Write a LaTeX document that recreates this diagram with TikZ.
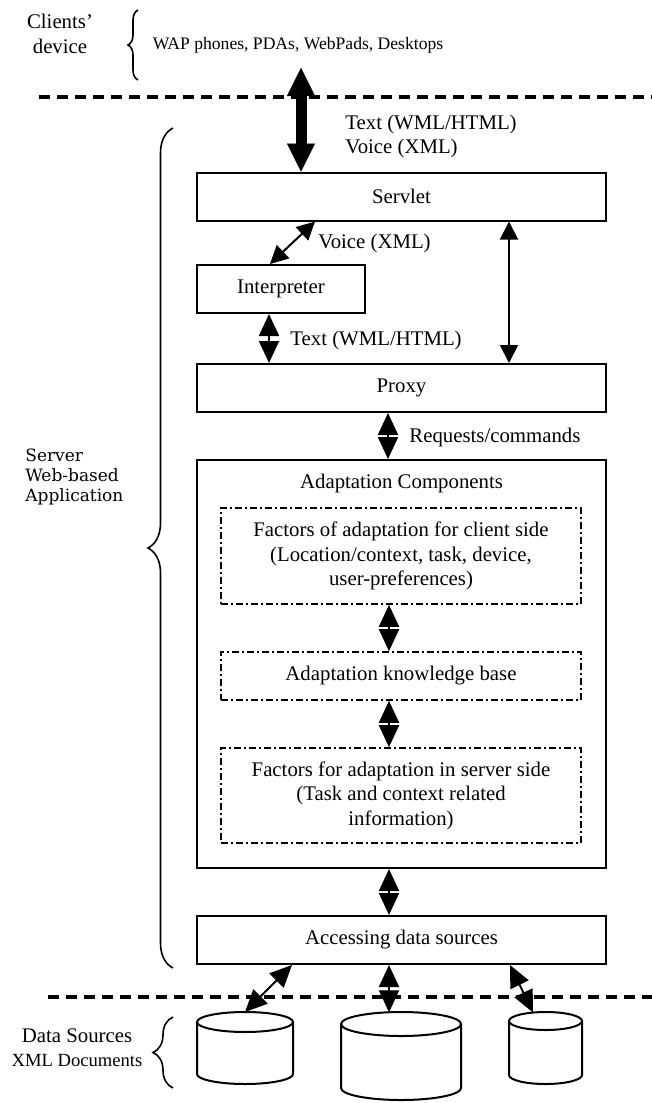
\documentclass[tikz,border=0pt]{standalone}
\usepackage{fontspec}
\setmainfont{Liberation Serif}
\newfontfamily\sidefont{DejaVu Serif}
\usetikzlibrary{arrows.meta,decorations.pathreplacing}
\begin{document}
\begin{tikzpicture}[x=0.5pt,y=0.5pt,
  font=\fontsize{10.4}{12.3}\selectfont,
  box/.style={draw, line width=1pt, inner sep=0pt, minimum width=204.5pt, minimum height=24pt},
  subbox/.style={draw, line width=0.8pt, dash pattern=on 3.5pt off 1.5pt on 1pt off 1.5pt,
    inner sep=0pt, minimum width=180pt, align=center},
  link/.style={line width=1pt, {Triangle[length=11pt,width=10pt]}-{Triangle[length=11pt,width=10pt]}},
  thinlink/.style={line width=1pt, {Triangle[length=9pt,width=9pt]}-{Triangle[length=9pt,width=9pt]}},
  mainlink/.style={line width=5.5pt,
    {Triangle[length=14pt,width=14pt,line width=0.1pt]}-{Triangle[length=14pt,width=14pt,line width=0.1pt]}},
  tierline/.style={line width=2pt, dash pattern=on 5.5pt off 3.5pt},
  brc/.style={decorate, line width=0.8pt},
  cyl/.style={line width=1pt},
  lbl/.style={anchor=west, inner sep=0pt, align=left}
]
\useasboundingbox (0,0) rectangle (652,-1103);

% client tier
\node[align=center] (clientlbl) at (60,-34) {Clients'\\device};
\draw[brc, decoration={brace, amplitude=5pt}] (138,-80) -- (138,-10);
\node[font=\fontsize{8.8}{10.5}\selectfont] (devices) at (298,-45) {WAP phones, PDAs, WebPads, Desktops};
\draw[tierline] (39,-97) -- (652,-97);

% server tier
\node[box] (servlet) at (401.5,-196.5) {Servlet};
\node[box, minimum width=84pt] (interp) at (281,-289) {Interpreter};
\node[box] (proxy) at (401.5,-388) {Proxy};
\node[box, minimum height=204pt] (adapt) at (401.5,-664) {};
\node (adapttitle) at (401.5,-483) {Adaptation Components};
\node[subbox, minimum height=48pt] (client) at (401,-556)
  {Factors of adaptation for client side\\(Location/context, task, device,\\user-preferences)};
\node[subbox, minimum height=24pt] (kb) at (401,-676) {Adaptation knowledge base};
\node[subbox, minimum height=47.5pt] (serverf) at (401,-795.5)
  {Factors for adaptation in server side\\(Task and context related\\information)};
\node[box] (access) at (401.5,-940) {Accessing data sources};

\node[lbl, font=\sidefont\fontsize{8.5}{10}\selectfont] (srvlbl) at (25,-477)
  {Server\\Web-based\\Application};
\draw[brc, decoration={brace, amplitude=12.5pt}] (173,-968) -- (173,-128);

% connectors
\coordinate (clients) at (301,-68);
\draw[mainlink] (clients) -- (clients |- servlet.north);
\node[lbl] (fmtlbl) at (345,-136.5) {Text (WML/HTML)\\Voice (XML)};

\draw[thinlink] (interp.north -| 270,0) -- (servlet.south -| 315,0);
\node[lbl] (voicelbl) at (318,-243) {Voice (XML)};

\draw[link] (interp.south -| 269,0) -- (proxy.north -| 269,0);
\node[lbl] (textlbl) at (290,-340) {Text (WML/HTML)};

\draw[thinlink] (servlet.south -| 509,0) -- (proxy.north -| 509,0);

\draw[link] (proxy.south -| 388,0) -- (adapt.north -| 388,0);
\node[lbl] (reqlbl) at (409,-437) {Requests/commands};

\draw[link] (client.south -| 389,0) -- (kb.north -| 389,0);
\draw[link] (kb.south -| 389,0) -- (serverf.north -| 389,0);
\draw[link] (adapt.south -| 389,0) -- (access.north -| 389,0);

% data tier
\draw[tierline] (48,-997) -- (652,-997);

\draw[cyl] (197,-1022) -- (197,-1074) arc[start angle=180,end angle=360,x radius=48,y radius=10] -- (293,-1022);
\draw[cyl] (245,-1022) ellipse[x radius=48,y radius=10];
\coordinate (cylA) at (245,-1012);

\draw[cyl] (341,-1024) -- (341,-1088) arc[start angle=180,end angle=360,x radius=60,y radius=12] -- (461,-1024);
\draw[cyl] (401,-1024) ellipse[x radius=60,y radius=12];
\coordinate (cylB) at (389,-1012.3);

\draw[cyl] (509,-1021) -- (509,-1075) arc[start angle=180,end angle=360,x radius=36.5,y radius=9] -- (582,-1021);
\draw[cyl] (545.5,-1021) ellipse[x radius=36.5,y radius=9];
\coordinate (cylC) at (533,-1012.5);

\draw[link] (access.south -| 292,0) -- (cylA);
\draw[link] (access.south -| 389,0) -- (cylB);
\draw[link] (access.south -| 510,0) -- (cylC);

\node[align=center] (dslbl) at (77,-1047.5)
  {Data Sources\\{\fontsize{9.3}{11}\selectfont XML Documents}};
\draw[brc, decoration={brace, amplitude=10pt}] (173,-1088) -- (173,-1017);
\end{tikzpicture}
\end{document}
